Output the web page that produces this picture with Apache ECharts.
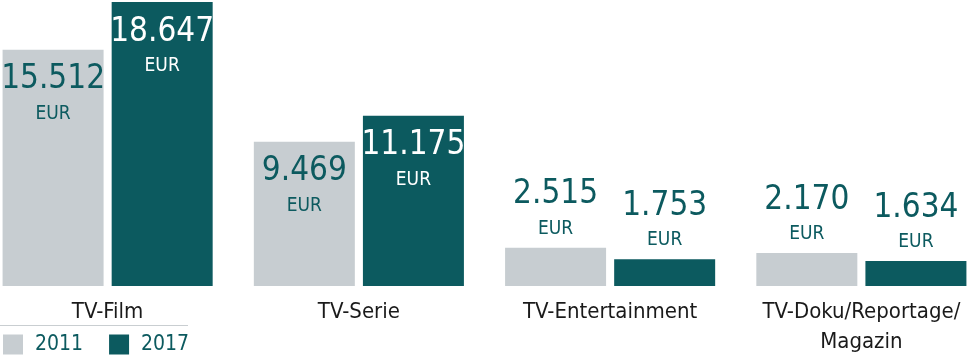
<!DOCTYPE html>
<html>
<head>
<meta charset="utf-8">
<script src="https://cdn.jsdelivr.net/npm/echarts@6/dist/echarts.min.js"></script>
<style>
html,body{margin:0;padding:0;background:#fff;}
#c{width:970px;height:358px;}
</style>
</head>
<body>
<div id="c"></div>
<script>
const categories = ['TV-Film', 'TV-Serie', 'TV-Entertainment', 'TV-Doku/Reportage/\nMagazin'];
const seriesNames = ['2011', '2017'];
const values2011 = [15512, 9469, 2515, 2170];
const values2017 = [18647, 11175, 1753, 1634];
const unit = 'EUR';

const GRAY = '#c7cdd1';
const TEAL = '#0c5a5f';
const FONT = '"DejaVu Sans Condensed", "DejaVu Sans", sans-serif';

function fmt(v) {
  return String(v).replace(/\B(?=(\d{3})+(?!\d))/g, '.');
}

function items(vals, insideColor) {
  return vals.map(v => {
    const inside = v > 5000;
    return {
      value: v,
      label: {
        position: inside ? 'insideTop' : 'top',
        distance: inside ? 9 : 6,
        color: inside ? insideColor : TEAL
      }
    };
  });
}

const labelBase = {
  show: true,
  formatter: p => '{n|' + fmt(p.value) + '}\n{e|' + unit + '}',
  align: 'center',
  rich: {
    n: { fontSize: 33, lineHeight: 42, fontFamily: FONT, align: 'center' },
    e: { fontSize: 19, lineHeight: 26, fontFamily: FONT, align: 'center' }
  }
};

const chart = echarts.init(document.getElementById('c'), null, { renderer: 'canvas' });
chart.setOption({
  animation: false,
  backgroundColor: '#ffffff',
  grid: { left: -18, width: 1005, top: 2, bottom: 72, containLabel: false, outerBoundsMode: 'none' },
  xAxis: {
    type: 'category',
    data: categories,
    axisLine: { show: false },
    axisTick: { show: false },
    axisLabel: {
      margin: 11,
      fontSize: 22,
      lineHeight: 30,
      fontFamily: FONT,
      color: '#1a1a1a',
      interval: 0
    }
  },
  yAxis: {
    type: 'value',
    min: 0,
    max: 18647,
    show: false,
    splitLine: { show: false }
  },
  legend: {
    left: 3,
    top: 334,
    padding: 0,
    itemWidth: 20,
    itemHeight: 20,
    itemGap: 26,
    icon: 'rect',
    data: seriesNames,
    textStyle: { fontSize: 21, fontFamily: FONT, color: TEAL, padding: [4, 0, 0, 7] }
  },
  graphic: [{
    type: 'line',
    shape: { x1: 0, y1: 325.5, x2: 188, y2: 325.5 },
    style: { stroke: '#c9ced1', lineWidth: 1 }
  }],
  series: [
    {
      name: seriesNames[0],
      type: 'bar',
      barWidth: 101,
      barGap: '8%',
      itemStyle: { color: GRAY },
      label: labelBase,
      data: items(values2011, TEAL)
    },
    {
      name: seriesNames[1],
      type: 'bar',
      barWidth: 101,
      barGap: '8%',
      itemStyle: { color: TEAL },
      label: labelBase,
      data: items(values2017, '#ffffff')
    }
  ]
});
</script>
</body>
</html>
